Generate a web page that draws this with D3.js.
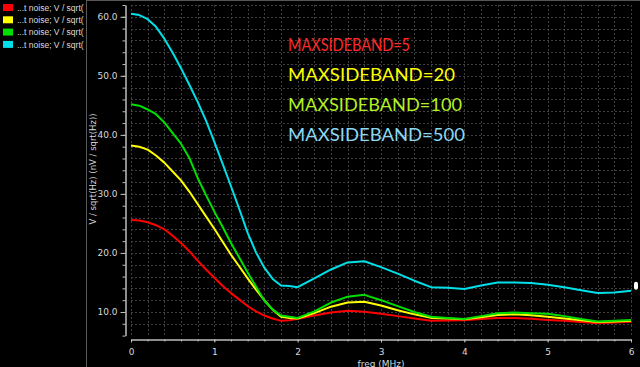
<!DOCTYPE html>
<html><head><meta charset="utf-8">
<script src="https://cdn.jsdelivr.net/npm/d3@7"></script>
<style>html,body{margin:0;padding:0;background:#000;overflow:hidden}</style>
</head><body>
<svg id="chart" width="640" height="367"></svg>
<script>
// ---- data ----
const freq = [0,0.1,0.2,0.3,0.4,0.5,0.6,0.7,0.8,0.9,1.0,1.1,1.2,1.3,1.4,1.5,1.6,1.7,1.8,1.9,2.0,
  2.2,2.4,2.6,2.8,3.0,3.2,3.4,3.6,3.8,4.0,4.2,4.4,4.6,4.8,5.0,5.2,5.4,5.6,5.8,6.0];
const sb5   = [25.6,25.5,25.2,24.7,24.0,22.9,21.7,20.3,18.7,17.2,15.8,14.4,13.2,12.1,11.0,10.1,9.4,8.9,8.5,8.6,8.85,
  9.4,9.9,10.2,10.05,9.7,9.3,8.9,8.5,8.55,8.6,8.8,9.0,9.0,8.85,8.65,8.5,8.3,8.1,8.2,8.35];
const sb20  = [38.2,38.0,37.5,36.5,35.3,33.8,32.3,30.4,28.3,26.2,24.1,21.9,19.7,17.7,15.7,13.8,12.0,10.4,9.2,9.0,8.9,
  9.8,10.9,11.6,11.75,11.1,10.3,9.6,9.0,8.9,8.75,9.1,9.5,9.6,9.45,9.2,8.9,8.6,8.3,8.4,8.5];
const sb100 = [45.2,44.95,44.3,43.5,42.1,40.3,38.5,36.1,32.7,29.8,27.0,24.4,21.7,19.2,16.7,14.3,11.9,10.4,9.4,9.2,9.0,
  10.1,11.6,12.6,12.9,12.0,11.0,10.0,9.2,9.0,8.8,9.3,9.8,9.9,9.8,9.7,9.3,8.8,8.4,8.5,8.65];
const sb500 = [60.5,60.3,59.6,58.3,56.3,53.9,51.3,48.5,45.6,42.4,38.8,35.1,31.3,27.4,23.4,20.1,17.5,15.6,14.5,14.4,14.2,
  15.7,17.2,18.4,18.6,17.6,16.5,15.3,14.2,14.1,13.9,14.5,15.0,15.0,14.9,14.6,14.2,13.7,13.2,13.3,13.6];
const seriesNames = ["MAXSIDEBAND=5","MAXSIDEBAND=20","MAXSIDEBAND=100","MAXSIDEBAND=500"];
const legendNames = ["...t noise; V / sqrt(","...t noise; V / sqrt(","...t noise; V / sqrt(","...t noise; V / sqrt("];
const yTicks = [10,20,30,40,50,60];
const xTicks = [0,1,2,3,4,5,6];
const xLabel = "freq (MHz)";
const yLabel = "V / sqrt(Hz) (nV / sqrt(Hz))";

// ---- styles / layout ----
const lineColors = ["#ff0000","#ffff00","#00e000","#00e0e8"];
const labelColors = ["#ff2a2a","#ffff00","#b4f020","#8cd8f2"];
const labelWidths = [122,167,174,177];
const allSeries = [sb5, sb20, sb100, sb500];

const svg = d3.select("#chart");
svg.append("rect").attr("width",640).attr("height",367).attr("fill","#000");

const x = d3.scaleLinear().domain([0,6]).range([131,631]);
const y = d3.scaleLinear().domain([6,62]).range([335.6,5]);

// grid
const grid = svg.append("g").attr("stroke","#404040").attr("stroke-width",1).attr("stroke-dasharray","2,2");
grid.selectAll("line.v").data(d3.range(0,6.001,0.2)).join("line")
  .attr("x1",d=>Math.round(x(d))+0.5).attr("x2",d=>Math.round(x(d))+0.5)
  .attr("y1",5).attr("y2",336);
grid.selectAll("line.h").data(d3.range(8,62.001,2)).join("line")
  .attr("x1",131).attr("x2",632)
  .attr("y1",d=>Math.round(y(d))+0.5).attr("y2",d=>Math.round(y(d))+0.5);

// axes
const axColor = "#bdbdbd";
const fontAx = "DejaVu Sans";
const yMinor = svg.append("g").attr("transform","translate(125.5,0)")
  .call(d3.axisLeft(y).tickValues(d3.range(6,62.001,2)).tickSize(3).tickSizeOuter(0).tickFormat(""));
const yAxis = svg.append("g").attr("transform","translate(125.5,0)")
  .call(d3.axisLeft(y).tickValues(yTicks).tickSize(5).tickSizeOuter(0).tickPadding(3).tickFormat(d3.format(".1f")));
const xMinor = svg.append("g").attr("transform","translate(0,339.5)")
  .call(d3.axisBottom(x).tickValues(d3.range(0,6.001,0.2)).tickSize(2).tickSizeOuter(0).tickFormat(""));
const xAxis = svg.append("g").attr("transform","translate(0,339.5)")
  .call(d3.axisBottom(x).tickValues(xTicks).tickSize(3).tickSizeOuter(0).tickPadding(6.5).tickFormat(d3.format("d")));
[yMinor,yAxis,xMinor,xAxis].forEach(g=>{
  g.selectAll("path,line").attr("stroke",axColor);
  g.selectAll("text").attr("fill","#d8d8d8").attr("font-family",fontAx).attr("font-size","9px");
});

svg.append("text").attr("x",381).attr("y",366.5).attr("text-anchor","middle")
  .attr("fill","#d8d8d8").attr("font-family",fontAx).attr("font-size","9px").text(xLabel);
svg.append("text").attr("transform","translate(96,169) rotate(-90)").attr("text-anchor","middle")
  .attr("fill","#d8d8d8").attr("font-family",fontAx).attr("font-size","8.5px").text(yLabel);

// lines
const line = d3.line().x((d,i)=>x(freq[i])).y(d=>y(d));
svg.append("g").selectAll("path").data(allSeries).join("path")
  .attr("d",d=>line(d)).attr("fill","none")
  .attr("stroke",(d,i)=>lineColors[i]).attr("stroke-width",2).attr("stroke-linejoin","round");

// end marker
svg.append("rect").attr("x",x(6)+3).attr("y",y(sb500[sb500.length-1])-9).attr("width",4).attr("height",8)
  .attr("rx",2).attr("fill","#fff");

// annotations
svg.append("g").selectAll("text").data(seriesNames).join("text")
  .attr("x",288).attr("y",(d,i)=>51+i*30)
  .attr("fill",(d,i)=>labelColors[i])
  .attr("font-family","Lato, 'Open Sans', sans-serif").attr("font-size","18px")
  .attr("textLength",(d,i)=>labelWidths[i]).attr("lengthAdjust","spacingAndGlyphs")
  .text(d=>d);

// legend panel
svg.append("line").attr("x1",86.5).attr("x2",86.5).attr("y1",0).attr("y2",367).attr("stroke","#5a5a5a");
svg.append("line").attr("x1",87).attr("x2",640).attr("y1",0.5).attr("y2",0.5).attr("stroke","#555");
svg.append("clipPath").attr("id","lgclip").append("rect").attr("x",0).attr("y",0).attr("width",86).attr("height",367);
const lg = svg.append("g").attr("clip-path","url(#lgclip)");
const rows = lg.selectAll("g").data(legendNames).join("g")
  .attr("transform",(d,i)=>`translate(0,${7.5+i*12.3})`);
rows.append("rect").attr("x",3).attr("y",-3.5).attr("width",10).attr("height",7)
  .attr("fill",(d,i)=>lineColors[i]);
rows.append("text").attr("x",17).attr("y",3.2).attr("fill","#dcdcdc")
  .attr("font-family","'Liberation Sans', Arial, sans-serif").attr("font-size","8.5px").text(d=>d);
</script>
</body></html>
